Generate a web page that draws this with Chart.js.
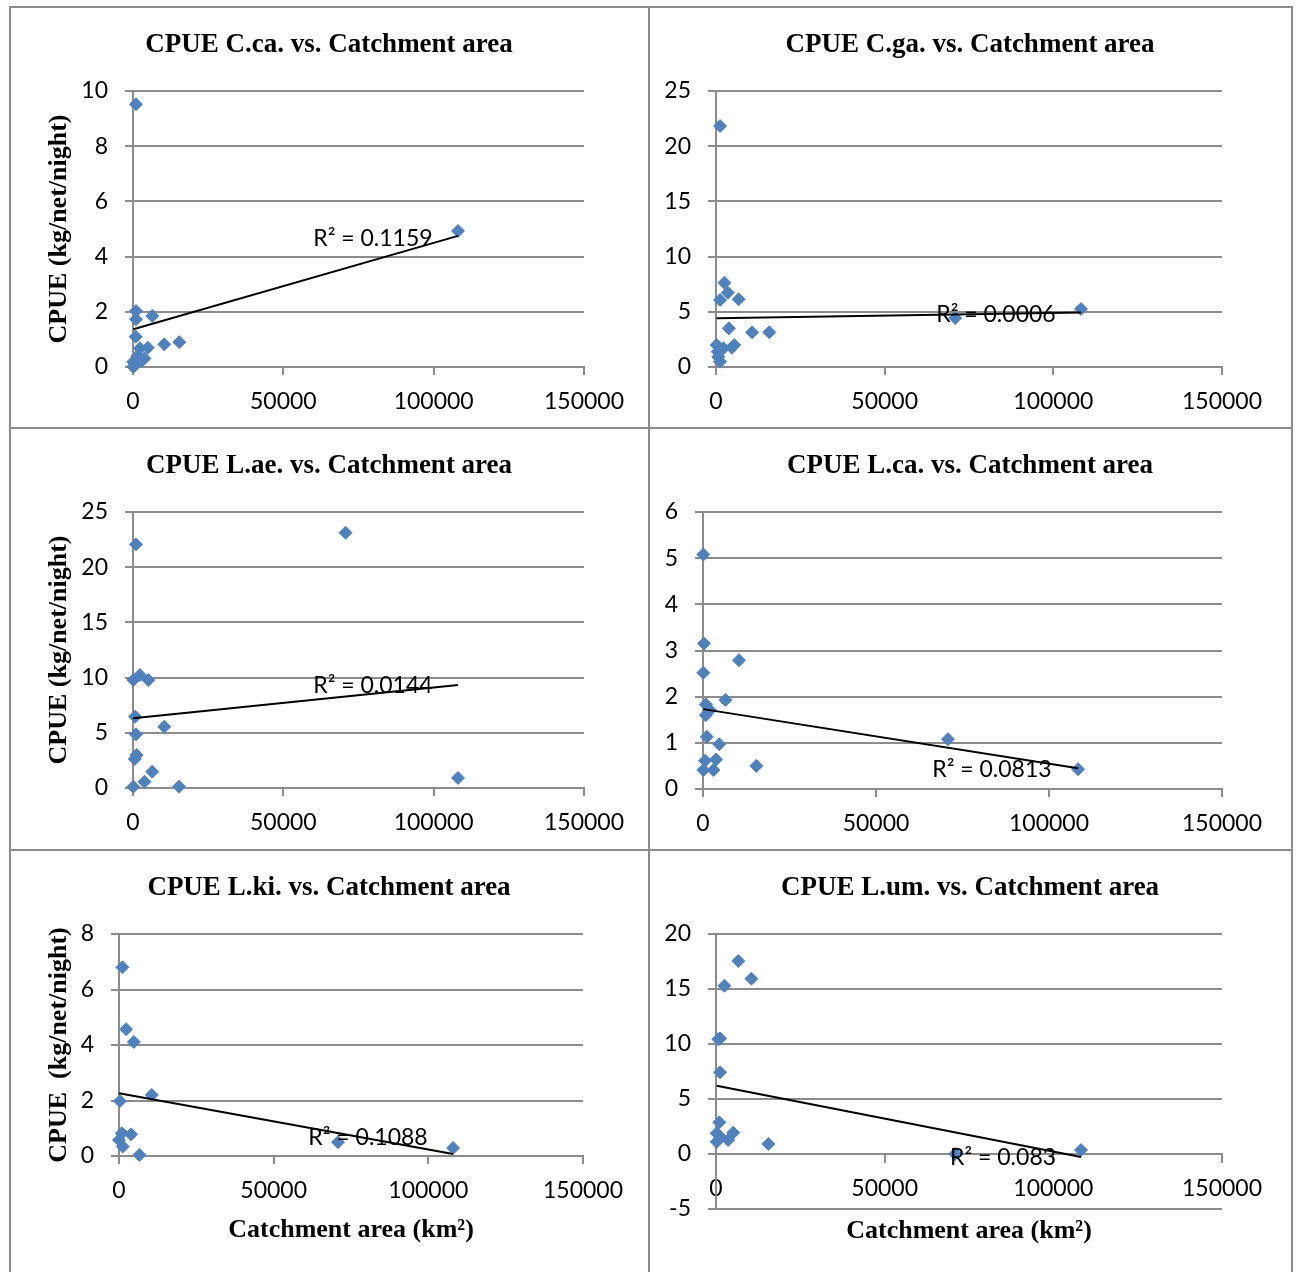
<!DOCTYPE html>
<html lang="en">
<head>
<meta charset="UTF-8">
<title>CPUE vs. Catchment area</title>
<script src="https://cdn.jsdelivr.net/npm/chart.js"></script>
<style>
  body { margin: 0; background: #fff; width: 1298px; height: 1272px; overflow: hidden; position: relative; }
  .rule { position: absolute; background: #8c8c8c; }
  canvas { position: absolute; }
</style>
</head>
<body>
<!-- table rules around the six panels -->
<div class="rule" style="left:9px;top:6px;width:1284px;height:2px"></div>
<div class="rule" style="left:9px;top:6px;width:2px;height:1266px"></div>
<div class="rule" style="left:1291px;top:6px;width:2px;height:1266px"></div>
<div class="rule" style="left:648px;top:6px;width:2px;height:1266px"></div>
<div class="rule" style="left:9px;top:427px;width:1284px;height:2px"></div>
<div class="rule" style="left:9px;top:849px;width:1284px;height:2px"></div>

<canvas id="cca" width="636" height="419" style="left:11px;top:8px"></canvas>
<canvas id="cga" width="640" height="419" style="left:650px;top:8px"></canvas>
<canvas id="lae" width="636" height="420" style="left:11px;top:429px"></canvas>
<canvas id="lca" width="640" height="420" style="left:650px;top:429px"></canvas>
<canvas id="lki" width="636" height="421" style="left:11px;top:851px"></canvas>
<canvas id="lum" width="640" height="421" style="left:650px;top:851px"></canvas>

<script>
// catchment area (km²) and CPUE (kg/net/night) per species
const ccaArea = [1000, 1000, 1000, 6400, 900, 2300, 4900, 10400, 15400, 3800, 100, 100, 1500, 2800, 500, 108100];
const ccaCpue = [9.52, 2.03, 1.73, 1.85, 1.10, 0.68, 0.70, 0.82, 0.90, 0.31, 0.19, 0.01, 0.40, 0.22, 0.05, 4.93];
const ccaTrend = [1.37, 4.75];

const cgaArea = [1200, 2500, 3500, 1200, 6700, 3800, 10700, 15800, 200, 500, 2200, 4700, 5400, 1200, 700, 70900, 108200];
const cgaCpue = [21.83, 7.64, 6.73, 6.07, 6.13, 3.50, 3.14, 3.14, 1.99, 1.39, 1.69, 1.75, 1.99, 0.48, 0.93, 4.44, 5.25];
const cgaTrend = [4.41, 4.93];

const laeArea = [1000, 70700, 100, 2300, 5100, 700, 1000, 10400, 1200, 600, 6400, 3800, 100, 15300, 108100];
const laeCpue = [22.07, 23.13, 9.78, 10.23, 9.78, 6.46, 4.86, 5.55, 2.99, 2.63, 1.48, 0.57, 0.12, 0.12, 0.91];
const laeTrend = [6.31, 9.33];

const lcaArea = [100, 300, 10400, 100, 6500, 800, 2000, 800, 1100, 4700, 600, 3800, 100, 3000, 15400, 70800, 108400];
const lcaCpue = [5.08, 3.15, 2.79, 2.52, 1.93, 1.83, 1.71, 1.60, 1.13, 0.97, 0.61, 0.64, 0.41, 0.41, 0.50, 1.08, 0.43];
const lcaTrend = [1.73, 0.45];

const lkiArea = [1100, 2300, 4800, 300, 10600, 900, 3900, 0, 1200, 6600, 70800, 108000];
const lkiCpue = [6.80, 4.57, 4.11, 1.98, 2.20, 0.82, 0.78, 0.58, 0.34, 0.04, 0.50, 0.29];
const lkiTrend = [2.26, 0.07];

const lumArea = [6600, 10500, 2500, 700, 1200, 1200, 1000, 200, 5100, 1200, 3600, 200, 15500, 70900, 108200];
const lumCpue = [17.55, 15.94, 15.30, 10.43, 10.50, 7.43, 2.88, 1.88, 1.94, 1.57, 1.27, 1.12, 0.91, 0.00, 0.36];
const lumTrend = [6.20, -0.27];

const titles = [
  'CPUE C.ca. vs. Catchment area', 'CPUE C.ga. vs. Catchment area',
  'CPUE L.ae. vs. Catchment area', 'CPUE L.ca. vs. Catchment area',
  'CPUE L.ki. vs. Catchment area', 'CPUE L.um. vs. Catchment area'
];
const r2Labels = ['R² = 0.1159', 'R² = 0.0006', 'R² = 0.0144', 'R² = 0.0813', 'R² = 0.1088', 'R² = 0.083'];
const xTitle = 'Catchment area (km²)';
const yTitle = 'CPUE (kg/net/night)';

const GRID = '#8c8c8c';
const BLUE = '#4F81BD';

// draws the panel heading and the R² note
const panelText = {
  id: 'panelText',
  afterDraw(chart, args, opts) {
    const ctx = chart.ctx;
    const {x, y} = chart.scales;
    ctx.save();
    ctx.fillStyle = '#000';
    ctx.textAlign = 'center';
    ctx.textBaseline = 'middle';
    ctx.font = 'bold 27px "Liberation Serif"';
    ctx.fillText(opts.title, chart.width / 2, opts.titleY);
    ctx.font = '23px Lato';
    ctx.fillText(opts.r2, x.getPixelForValue(opts.r2At[0]), y.getPixelForValue(opts.r2At[1]));
    ctx.restore();
  }
};

function makePanel(id, area, cpue, trend, p) {
  const pts = area.map((a, i) => ({x: a, y: cpue[i]}));
  const x0 = Math.min(...area), x1 = Math.max(...area);
  const line = [{x: x0, y: trend[0]}, {x: x1, y: trend[1]}];
  const serif = {family: 'Liberation Serif', size: 26, weight: 'bold'};
  const tickFont = {family: 'Lato', size: 23};

  new Chart(document.getElementById(id), {
    type: 'scatter',
    data: {
      datasets: [
        {data: line, showLine: true, borderColor: '#000', borderWidth: 2, pointRadius: 0, clip: false},
        {data: pts, pointStyle: 'rectRot', pointRadius: 6.5, backgroundColor: BLUE, borderColor: BLUE, borderWidth: 1, clip: false}
      ]
    },
    options: {
      responsive: false,
      animation: false,
      events: [],
      layout: {padding: {top: 83, right: p.right, bottom: p.bottom || 0, left: 0}},
      plugins: {
        legend: {display: false},
        tooltip: {enabled: false},
        panelText: {title: p.title, titleY: 37, r2: p.r2, r2At: p.r2At}
      },
      scales: {
        x: {
          type: 'linear',
          min: 0, max: 150000,
          position: p.xAtZero ? {y: 0} : 'bottom',
          ticks: {stepSize: 50000, color: '#000', font: tickFont, padding: 13, maxRotation: 0, callback: v => String(v)},
          grid: {drawOnChartArea: false, tickLength: 8, color: GRID, lineWidth: 2},
          border: {color: GRID, width: 2},
          title: {display: !!p.xTitle, text: xTitle, color: '#000', font: serif, padding: {top: 0, bottom: 26}},
          afterFit: s => { s.height = p.xHeight; }
        },
        y: {
          min: p.yMin, max: p.yMax,
          ticks: {stepSize: p.yStep, color: '#000', font: tickFont, padding: 17},
          grid: {tickLength: 8, color: GRID, lineWidth: 2},
          border: {color: GRID, width: 2},
          title: {display: !!p.yTitle, text: p.yTitle, color: '#000', font: serif, padding: {top: 33, bottom: 0}},
          afterFit: s => { s.width = p.yWidth; }
        }
      }
    },
    plugins: [panelText]
  });
}

makePanel('cca', ccaArea, ccaCpue, ccaTrend, {
  title: titles[0], r2: r2Labels[0], r2At: [79800, 4.64],
  yMin: 0, yMax: 10, yStep: 2, yWidth: 122, right: 63, xHeight: 60, yTitle: yTitle
});
makePanel('cga', cgaArea, cgaCpue, cgaTrend, {
  title: titles[1], r2: r2Labels[1], r2At: [83000, 4.71],
  yMin: 0, yMax: 25, yStep: 5, yWidth: 66, right: 68, xHeight: 60
});
makePanel('lae', laeArea, laeCpue, laeTrend, {
  title: titles[2], r2: r2Labels[2], r2At: [79800, 9.24],
  yMin: 0, yMax: 25, yStep: 5, yWidth: 122, right: 63, xHeight: 61, yTitle: yTitle
});
makePanel('lca', lcaArea, lcaCpue, lcaTrend, {
  title: titles[3], r2: r2Labels[3], r2At: [83500, 0.41],
  yMin: 0, yMax: 6, yStep: 1, yWidth: 53, right: 68, xHeight: 60
});
makePanel('lki', lkiArea, lkiCpue, lkiTrend, {
  title: titles[4], r2: r2Labels[4], r2At: [80500, 0.68],
  yMin: 0, yMax: 8, yStep: 2, yWidth: 108, right: 64, xHeight: 116,
  yTitle: 'CPUE  (kg/net/night)', xTitle: true
});
makePanel('lum', lumArea, lumCpue, lumTrend, {
  title: titles[5], r2: r2Labels[5], r2At: [85100, -0.36],
  yMin: -5, yMax: 20, yStep: 5, yWidth: 66, right: 68, xHeight: 119, bottom: 63,
  xAtZero: true, xTitle: true
});
</script>
</body>
</html>
